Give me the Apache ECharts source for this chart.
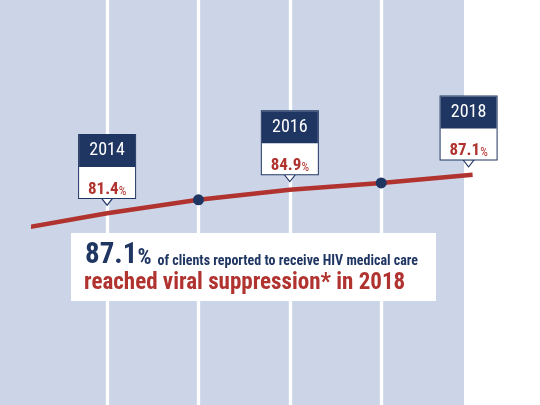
<!DOCTYPE html>
<html><head><meta charset="utf-8">
<script src="https://cdn.jsdelivr.net/npm/echarts@6/dist/echarts.min.js"></script>
<style>html,body{margin:0;padding:0;background:#fff}#c{width:540px;height:405px}</style>
</head><body><div id="c"></div>
<script>
// ---- data ----
const years = [2013, 2014, 2015, 2016, 2017, 2018];
const suppression = [79.0, 81.4, 83.4, 84.9, 85.9, 87.1];
const labeledYears = [2014, 2016, 2018];
const dotYears = [2015, 2017];
const separatorYears = [2014, 2015, 2016, 2017];
const headlineText = 'of clients reported to receive HIV medical care';
const subText = 'reached viral suppression* in 2018';

// ---- style ----
const NAVY = '#1f3562';
const RED = '#b0332f';
const BAND = '#cbd5e7';
const FONT = "'Liberation Sans Narrow','Arial Narrow','Roboto Condensed','DejaVu Sans Condensed',sans-serif";

const valOf = y => suppression[years.indexOf(y)];
const headlineValue = valOf(2018).toFixed(1);

const chart = echarts.init(document.getElementById('c'));
chart.setOption({
  animation: false,
  grid: { left: 34, right: 40, top: 0, bottom: 0 },
  xAxis: { type: 'value', min: 2013.2, max: 2018.3, show: false },
  yAxis: { type: 'value', min: 53, max: 113, show: false },
  graphic: [
    { type: 'rect', shape: { x: 0, y: 0, width: 464, height: 405 }, style: { fill: BAND }, z: -10, silent: true },
    { type: 'rect', shape: { x: 71, y: 233, width: 365, height: 68 }, style: { fill: '#fff' }, z: 10, silent: true },
    { type: 'text', x: 85, y: 255.5, z: 11, silent: true,
      style: { text: headlineValue, fill: NAVY, fontSize: 29, fontWeight: 'bold', fontFamily: FONT, verticalAlign: 'middle', align: 'left' } },
    { type: 'text', x: 137.5, y: 258.6, z: 11, silent: true,
      style: { text: '%', fill: NAVY, fontSize: 22, fontWeight: 'bold', fontFamily: FONT, verticalAlign: 'middle', align: 'left' } },
    { type: 'text', x: 157.5, y: 261.1, z: 11, silent: true,
      style: { text: headlineText, fill: NAVY, fontSize: 14, fontWeight: 'bold', fontFamily: FONT, verticalAlign: 'middle', align: 'left' } },
    { type: 'text', x: 84, y: 283.7, z: 11, silent: true,
      style: { text: subText, fill: RED, fontSize: 23, fontWeight: 'bold', fontFamily: FONT, verticalAlign: 'middle', align: 'left' } }
  ],
  series: [
    {
      type: 'line', data: [], z: 1, silent: true,
      markLine: {
        z: 1, silent: true, symbol: 'none', animation: false,
        label: { show: false },
        lineStyle: { color: '#ffffff', width: 3.3, type: 'solid', opacity: 1 },
        emphasis: { disabled: true },
        data: separatorYears.map(y => ({ xAxis: y }))
      }
    },
    {
      type: 'line', z: 3, silent: true,
      data: years.map((y, i) => ({
        value: [y, suppression[i]],
        symbolSize: dotYears.includes(y) ? 11 : 0
      })),
      symbol: 'circle',
      showSymbol: true,
      lineStyle: { color: RED, width: 4.5 },
      itemStyle: { color: NAVY, borderWidth: 0, opacity: 1 }
    },
    {
      type: 'scatter', z: 5, silent: true,
      symbol: 'path://M0,0L10,0L5,7Z',
      symbolSize: [11, 7],
      itemStyle: { color: '#ffffff', borderColor: NAVY, borderWidth: 1, opacity: 1 },
      data: labeledYears.map(y => ({
        value: [y, valOf(y)],
        symbolOffset: y === 2018 ? [-4, -11.5] : [0, -11.5]
      })),
      label: {
        show: true, position: 'top', distance: 0,
        backgroundColor: '#ffffff', borderColor: NAVY, borderWidth: 1, padding: 0,
        formatter: p => '{y|' + p.value[0] + '}\n{v|' + p.value[1].toFixed(1) + '}{p|%}',
        rich: {
          y: { width: 56, height: 32, lineHeight: 32, backgroundColor: NAVY, color: '#ffffff',
               fontSize: 18, fontFamily: FONT, align: 'center' },
          v: { fontSize: 17, fontWeight: 'bold', color: RED, fontFamily: FONT, lineHeight: 31,
               verticalAlign: 'bottom', align: 'center' },
          p: { fontSize: 12, color: RED, fontFamily: FONT, lineHeight: 27.5,
               verticalAlign: 'bottom', align: 'center' }
        }
      }
    }
  ]
});
</script></body></html>
